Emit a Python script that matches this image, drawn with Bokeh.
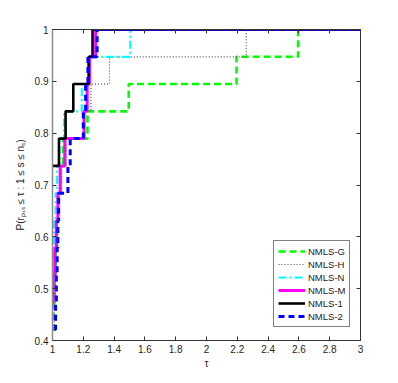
from bokeh.plotting import figure
from bokeh.models import Range1d, FixedTicker, LinearAxis, PrintfTickFormatter, Legend, LegendItem
from bokeh.embed import file_html
from bokeh.resources import INLINE

# Performance profile data: breakpoints (tau) and the level reached at each breakpoint (k/19)
n_problems = 19
series_names = ["NMLS-G", "NMLS-H", "NMLS-N", "NMLS-M", "NMLS-1", "NMLS-2"]

g_tau = [1.0, 1.01, 1.015, 1.02, 1.03, 1.035, 1.05, 1.07, 1.227, 1.495, 2.195, 2.595]
g_cnt = [8, 9, 10, 11, 12, 13, 14, 15, 16, 17, 18, 19]

h_tau = [1.0, 1.01, 1.02, 1.025, 1.03, 1.04, 1.06, 1.09, 1.20, 1.25, 1.37, 2.258]
h_cnt = [8, 9, 10, 11, 12, 13, 14, 15, 16, 17, 18, 19]

n_tau = [1.0, 1.005, 1.01, 1.02, 1.03, 1.045, 1.075, 1.19, 1.235, 1.505]
n_cnt = [10, 11, 12, 13, 14, 15, 16, 17, 18, 19]

m_tau = [1.0, 1.005, 1.015, 1.025, 1.035, 1.05, 1.08, 1.205, 1.225, 1.24, 1.28]
m_cnt = [9, 10, 11, 12, 13, 14, 15, 16, 17, 18, 19]

o_tau = [1.0, 1.042, 1.085, 1.135, 1.235, 1.26]
o_cnt = [14, 15, 16, 17, 18, 19]

t_tau = [1.013, 1.02, 1.025, 1.03, 1.035, 1.04, 1.10, 1.115, 1.20, 1.215, 1.23, 1.29]
t_cnt = [8, 9, 10, 11, 12, 13, 14, 15, 16, 17, 18, 19]

x_ticks = [1.0, 1.2, 1.4, 1.6, 1.8, 2.0, 2.2, 2.4, 2.6, 2.8, 3.0]
y_ticks = [0.4, 0.5, 0.6, 0.7, 0.8, 0.9, 1.0]
tau_max = 3.0

FONT = "Liberation Sans"

p = figure(width=390, height=375, output_backend="svg", toolbar_location=None,
           x_range=Range1d(1, 3), y_range=Range1d(0.4, 1.0),
           min_border_left=52, min_border_right=30, min_border_top=29, min_border_bottom=35)
p.background_fill_color = "white"
p.border_fill_color = "white"
p.outline_line_color = "#333333"
p.outline_line_width = 1
p.xgrid.visible = False
p.ygrid.visible = False

styles = [
    dict(color="#00ff00", width=2.6, dash="7 4"),
    dict(color="#555555", width=1.2, dash="1 2"),
    dict(color="#00ffff", width=2.2, dash="8 3 2 3"),
    dict(color="#ff00ff", width=3.0, dash="solid"),
    dict(color="#000000", width=2.6, dash="solid"),
    dict(color="#0000ff", width=3.0, dash="6 4"),
]
data = [(g_tau, g_cnt), (h_tau, h_cnt), (n_tau, n_cnt), (m_tau, m_cnt), (o_tau, o_cnt), (t_tau, t_cnt)]

items = []
for name, (taus, cnts), st in zip(series_names, data, styles):
    xs = list(taus) + [tau_max]
    ys = [c / n_problems for c in cnts] + [cnts[-1] / n_problems]
    r = p.step(xs, ys, mode="after", line_color=st["color"], line_width=st["width"],
               line_dash=st["dash"])
    items.append(LegendItem(label=name, renderers=[r]))

legend = Legend(items=items, location=(221, 13), padding=4, spacing=1, glyph_height=12,
                label_height=12, glyph_width=27, label_standoff=3, margin=0,
                label_text_font=FONT, label_text_font_size="9.5px", label_text_color="#222222",
                border_line_color="#000000", border_line_width=1,
                background_fill_color="white", background_fill_alpha=1)
p.add_layout(legend, "center")

for ax in [p.xaxis[0], p.yaxis[0]]:
    ax.major_tick_in = 4
    ax.major_tick_out = 0
    ax.minor_tick_line_color = None
    ax.major_label_text_font = FONT
    ax.major_label_text_font_size = "10px"
    ax.major_label_text_color = "#262626"
    ax.axis_label_text_font = FONT
    ax.axis_label_text_font_size = "10px"
    ax.axis_label_text_font_style = "normal"
    ax.axis_label_text_color = "#262626"
    ax.formatter = PrintfTickFormatter(format="%g")
    ax.major_label_standoff = 4

p.xaxis[0].ticker = FixedTicker(ticks=x_ticks)
p.yaxis[0].ticker = FixedTicker(ticks=y_ticks)
p.xaxis[0].axis_label = "τ"
p.yaxis[0].axis_label = "P(rₚ,ₛ ≤ τ : 1 ≤ s ≤ nₛ)"
p.xaxis[0].axis_label_standoff = 2
p.yaxis[0].axis_label_standoff = 6
p.xaxis[0].axis_line_color = "#333333"
p.yaxis[0].axis_line_color = "#8c8c8c"
p.yaxis[0].axis_line_width = 1.5
p.xaxis[0].major_tick_line_color = "#333333"
p.yaxis[0].major_tick_line_color = "#333333"

top = LinearAxis(ticker=FixedTicker(ticks=x_ticks), major_label_text_color=None,
                 major_tick_in=4, major_tick_out=0, minor_tick_line_color=None,
                 axis_line_color="#333333", major_tick_line_color="#333333")
right = LinearAxis(ticker=FixedTicker(ticks=y_ticks), major_label_text_color=None,
                   major_tick_in=4, major_tick_out=0, minor_tick_line_color=None,
                   axis_line_color="#333333", major_tick_line_color="#333333")
p.add_layout(top, "above")
p.add_layout(right, "right")

open("out.html", "w").write(file_html(p, INLINE))
